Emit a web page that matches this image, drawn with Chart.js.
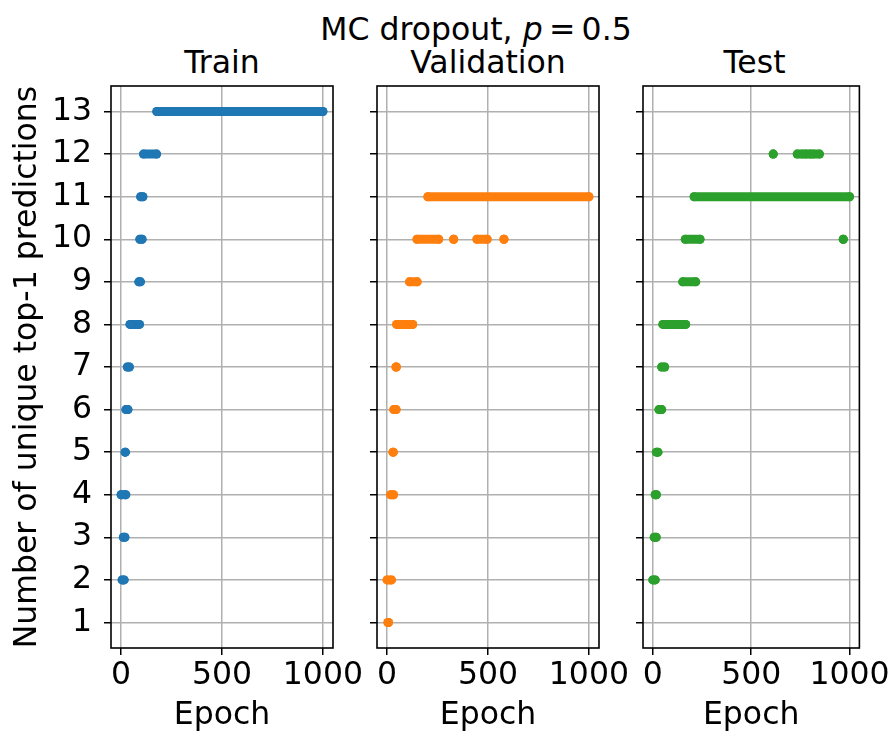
<!DOCTYPE html>
<html>
<head>
<meta charset="utf-8">
<script src="https://cdn.jsdelivr.net/npm/chart.js@4.4.1/dist/chart.umd.min.js"></script>
<style>
  html, body { margin: 0; padding: 0; background: #fff; }
  #wrap { position: relative; width: 896px; height: 734px; overflow: hidden; }
  .panel { position: absolute; left: 0; top: 0; width: 896px; height: 734px; }
  .title {
    position: absolute; font-family: 'DejaVu Sans', sans-serif; font-size: 31.5px;
    line-height: 31.5px; color: #000; white-space: nowrap; transform: translateX(-50%);
  }
</style>
</head>
<body>
<div id="wrap">
  <div class="title" style="left:476px; top:14px;">MC dropout, <i>p</i>&#8201;=&#8201;0.5</div>
  <div class="title" id="t0" style="top:47px;"></div>
  <div class="title" id="t1" style="top:47px;"></div>
  <div class="title" id="t2" style="top:47px;"></div>
  <div class="panel"><canvas id="c0"></canvas></div>
  <div class="panel"><canvas id="c1"></canvas></div>
  <div class="panel"><canvas id="c2"></canvas></div>
</div>
<script>
// Tick values
const countTicks = [1, 2, 3, 4, 5, 6, 7, 8, 9, 10, 11, 12, 13];
const epochTicks = [0, 500, 1000];
const panelTitles = ['Train', 'Validation', 'Test'];

// Runs of consecutive epochs with the same count: [unique top-1 count, first epoch, last epoch]
const trainRuns = [
  [2, 5, 15],
  [3, 11, 19],
  [4, 0, 3],
  [4, 20, 24],
  [5, 20, 22],
  [6, 24, 34],
  [7, 31, 41],
  [8, 44, 91],
  [9, 88, 96],
  [10, 93, 104],
  [11, 97, 108],
  [12, 111, 176],
  [13, 177, 1000]
];
const validationRuns = [
  [1, 4, 7],
  [2, 0, 22],
  [4, 18, 32],
  [5, 29, 31],
  [6, 33, 45],
  [7, 44, 46],
  [8, 47, 127],
  [9, 111, 149],
  [10, 148, 256],
  [10, 330, 330],
  [10, 445, 496],
  [10, 579, 579],
  [11, 202, 1000]
];
const testRuns = [
  [2, 0, 12],
  [3, 7, 17],
  [4, 12, 18],
  [5, 18, 26],
  [6, 31, 45],
  [7, 45, 60],
  [8, 51, 167],
  [9, 152, 218],
  [10, 165, 240],
  [10, 968, 968],
  [11, 210, 1000],
  [12, 612, 612],
  [12, 734, 762],
  [12, 778, 800],
  [12, 815, 847]
];

const seriesColors = ['#1f77b4', '#ff7f0e', '#2ca02c'];
const FONT = "'DejaVu Sans', sans-serif";
const FS = 31.5;
const MARKER_R = 4.5;

// Horizontal placement of each axes box (left, right), in page pixels
const boxes = [[111, 333], [377, 599], [643, 866]];
const BOX_TOP = 86, BOX_BOTTOM = 648, W = 896, H = 734;

const frame = {
  id: 'frame',
  afterDatasetsDraw(chart) {
    const { ctx, chartArea: a } = chart;
    ctx.save();
    ctx.strokeStyle = '#000';
    ctx.lineWidth = 1.6;
    ctx.strokeRect(a.left, a.top, a.right - a.left, a.bottom - a.top);
    ctx.restore();
  }
};

function makePanel(i, runs) {
  const [left, right] = boxes[i];
  const first = i === 0;
  const yWidth = first ? left : 10;
  const color = seriesColors[i];

  const t = document.getElementById('t' + i);
  t.textContent = panelTitles[i];
  t.style.left = ((left + right) / 2) + 'px';

  const datasets = runs.map(([count, a, b]) => ({
    data: [{ x: a, y: count }, { x: b, y: count }],
    showLine: true,
    borderColor: color,
    backgroundColor: color,
    borderWidth: MARKER_R * 2,
    borderCapStyle: 'round',
    pointRadius: MARKER_R,
    pointBorderWidth: 0,
    pointBackgroundColor: color,
    pointHoverRadius: MARKER_R
  }));

  new Chart(document.getElementById('c' + i), {
    type: 'scatter',
    data: { datasets },
    plugins: [frame],
    options: {
      responsive: true,
      maintainAspectRatio: false,
      animation: false,
      events: [],
      layout: { padding: { left: left - yWidth, right: W - right, top: BOX_TOP, bottom: 0 } },
      plugins: { legend: { display: false }, tooltip: { enabled: false }, title: { display: false } },
      scales: {
        x: {
          type: 'linear', min: -50, max: 1050,
          afterBuildTicks: s => { s.ticks = epochTicks.map(v => ({ value: v })); },
          afterFit: s => { s.height = H - BOX_BOTTOM; },
          border: { display: false },
          grid: { color: '#b0b0b0', lineWidth: 1.5, tickColor: '#000', tickWidth: 1.5, tickLength: 7 },
          ticks: {
            color: '#000', padding: 5, maxRotation: 0,
            font: { family: FONT, size: FS, lineHeight: 1 },
            callback: v => String(v)
          },
          title: {
            display: true, text: 'Epoch', color: '#000',
            font: { family: FONT, size: FS, lineHeight: 1 },
            padding: { top: 0, bottom: 2 }
          }
        },
        y: {
          type: 'linear', min: 0.4, max: 13.6,
          afterBuildTicks: s => { s.ticks = countTicks.map(v => ({ value: v })); },
          afterFit: s => { s.width = yWidth; },
          border: { display: false },
          grid: { color: '#b0b0b0', lineWidth: 1.5, tickColor: '#000', tickWidth: 1.5, tickLength: 7 },
          ticks: {
            display: first, color: '#000', padding: 12,
            font: { family: FONT, size: FS, lineHeight: 1 },
            callback: v => String(v)
          },
          title: {
            display: first, text: 'Number of unique top-1 predictions', color: '#000',
            font: { family: FONT, size: FS, lineHeight: 1 },
            padding: { top: 12, bottom: 0 }
          }
        }
      }
    }
  });
}

makePanel(0, trainRuns);
makePanel(1, validationRuns);
makePanel(2, testRuns);
</script>
</body>
</html>
